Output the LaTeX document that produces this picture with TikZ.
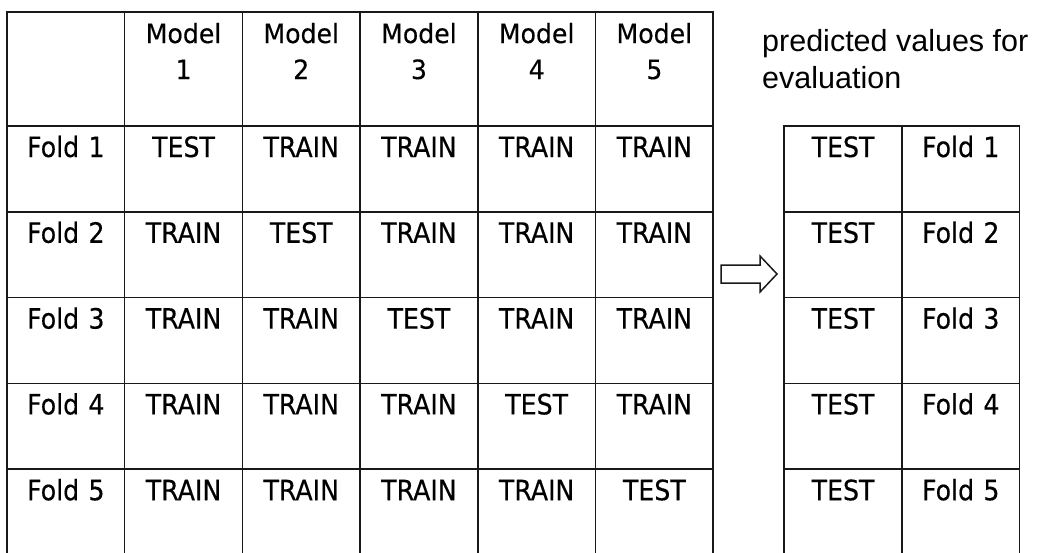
\documentclass[tikz,border=0pt]{standalone}
\usepackage{xcolor}
\usepackage{fontspec}
\usepackage{tikz}
\usetikzlibrary{positioning}

\newfontfamily\cellfont[FakeStretch=0.9, FakeBold=0.4]{DejaVu Sans}
\newfontfamily\headfont[FakeStretch=0.95, FakeBold=0.3]{DejaVu Sans}
\newfontfamily\notefont{Liberation Sans}

\tikzset{
    cell/.style={draw=black!90, line width=1.5pt, inner sep=0pt, outer sep=0pt,
        text width=117.7pt, align=center, text height=31pt, text depth=54.8pt,
        font=\cellfont\fontsize{28}{34}\selectfont},
    head/.style={cell, text height=31pt, text depth=83pt,
        font=\headfont\fontsize{26.5}{36}\selectfont},
    blockarrow/.style={draw=black!90, line width=1.5pt, line join=miter},
}

\begin{document}
\begin{tikzpicture}[x=1pt, y=-1pt]
        \useasboundingbox (0,0) rectangle (1039,552);
%       header row
        \node[head, anchor=north west] (corner) at (7,12) {};
        \node[head, right=0pt of corner] (m1) {Model\\1};
        \node[head, right=0pt of m1] (m2) {Model\\2};
        \node[head, right=0pt of m2] (m3) {Model\\3};
        \node[head, right=0pt of m3] (m4) {Model\\4};
        \node[head, right=0pt of m4] (m5) {Model\\5};
%       folds
        \node[cell, below=0pt of corner] (f1) {Fold 1};
        \node[cell, right=0pt of f1] (t11) {TEST};
        \node[cell, right=0pt of t11] (t12) {TRAIN};
        \node[cell, right=0pt of t12] (t13) {TRAIN};
        \node[cell, right=0pt of t13] (t14) {TRAIN};
        \node[cell, right=0pt of t14] (t15) {TRAIN};
        \node[cell, below=0pt of f1] (f2) {Fold 2};
        \node[cell, right=0pt of f2] (t21) {TRAIN};
        \node[cell, right=0pt of t21] (t22) {TEST};
        \node[cell, right=0pt of t22] (t23) {TRAIN};
        \node[cell, right=0pt of t23] (t24) {TRAIN};
        \node[cell, right=0pt of t24] (t25) {TRAIN};
        \node[cell, below=0pt of f2] (f3) {Fold 3};
        \node[cell, right=0pt of f3] (t31) {TRAIN};
        \node[cell, right=0pt of t31] (t32) {TRAIN};
        \node[cell, right=0pt of t32] (t33) {TEST};
        \node[cell, right=0pt of t33] (t34) {TRAIN};
        \node[cell, right=0pt of t34] (t35) {TRAIN};
        \node[cell, below=0pt of f3] (f4) {Fold 4};
        \node[cell, right=0pt of f4] (t41) {TRAIN};
        \node[cell, right=0pt of t41] (t42) {TRAIN};
        \node[cell, right=0pt of t42] (t43) {TRAIN};
        \node[cell, right=0pt of t43] (t44) {TEST};
        \node[cell, right=0pt of t44] (t45) {TRAIN};
        \node[cell, below=0pt of f4] (f5) {Fold 5};
        \node[cell, right=0pt of f5] (t51) {TRAIN};
        \node[cell, right=0pt of t51] (t52) {TRAIN};
        \node[cell, right=0pt of t52] (t53) {TRAIN};
        \node[cell, right=0pt of t53] (t54) {TRAIN};
        \node[cell, right=0pt of t54] (t55) {TEST};
%       collected test folds
        \node[cell, right=71pt of t15] (p1) {TEST};
        \node[cell, right=0pt of p1] (q1) {Fold 1};
        \node[cell, below=0pt of p1] (p2) {TEST};
        \node[cell, right=0pt of p2] (q2) {Fold 2};
        \node[cell, below=0pt of p2] (p3) {TEST};
        \node[cell, right=0pt of p3] (q3) {Fold 3};
        \node[cell, below=0pt of p3] (p4) {TEST};
        \node[cell, right=0pt of p4] (q4) {Fold 4};
        \node[cell, below=0pt of p4] (p5) {TEST};
        \node[cell, right=0pt of p5] (q5) {Fold 5};
        \node[anchor=north west, inner sep=0pt, align=left,
              font=\notefont\fontsize{30.5}{37}\selectfont] (note) at (762,29)
              {predicted values for\\evaluation};
%
        \draw[blockarrow] (721,265) -- (760,265) -- (760,256) -- (777,274)
            -- (760,292) -- (760,283) -- (721,283) -- cycle;
\end{tikzpicture}
\end{document}
